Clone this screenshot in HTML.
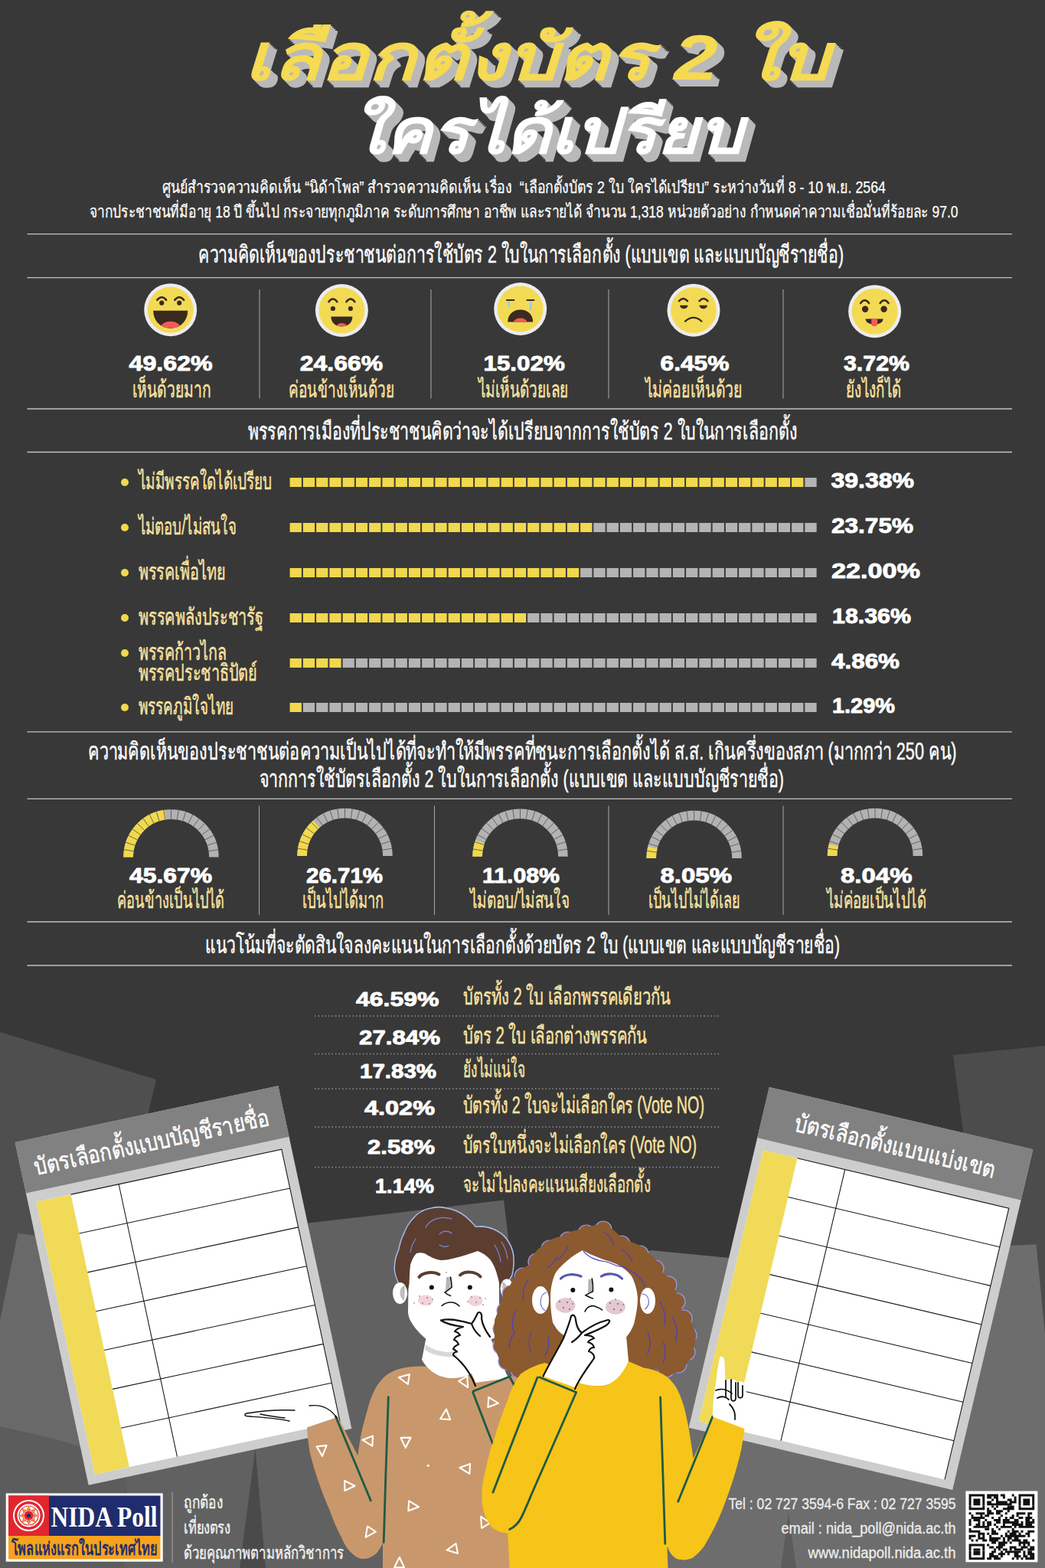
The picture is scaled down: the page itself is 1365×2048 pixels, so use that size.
<!DOCTYPE html>
<html lang="th">
<head>
<meta charset="utf-8">
<title>เลือกตั้งบัตร 2 ใบ ใครได้เปรียบ - NIDA Poll</title>
<style>
html,body{margin:0;padding:0;background:#383838}
body{font-family:"Liberation Sans",sans-serif}
main{position:relative;width:1365px;height:2048px;overflow:hidden;background:#383838}
svg{position:absolute;left:0;display:block;overflow:visible}
text{white-space:pre}
</style>
</head>
<body>
<main>
<svg class="bgsvg" style="top:1280px" width="1365" height="768" viewBox="0 1280 1365 768" font-family="Liberation Sans, sans-serif" aria-hidden="true">
<path d="M0 1348L204 1410L150 1640L0 1800Z" fill="#4f4f4f"/>
<path d="M1245 1378L1365 1366V1800L1300 1800Z" fill="#4c4c4c"/>
<path d="M0 1724L24 1700H170L165 1940L160 2048H0Z" fill="#5c5c5c"/>
<path d="M23.4 1611L80 1618L140 1900L70.3 1879L0 1863V1724.5Z" fill="#696969"/>
<path d="M402 1597.6L658 1567.5L668 1650L720 2048H160L165 1940L130 1700H420Z" fill="#616161"/>
<path d="M850 1633L953 1643L1319.3 1627L1353.5 1625.3L1365 1742V2048H690L700 1700Z" fill="#6d6d6d"/>
<path d="M333.5 1892L347 2048H313Z" fill="#4a4a4a"/><path d="M1030 1975L1040 2048H1020Z" fill="#5c5c5c"/>
<g transform="translate(239.5 1679) rotate(-12.1) translate(-175.75 -229.0)"><rect width="351.5" height="458" fill="#cdcdcd"/><rect width="351.5" height="68" fill="#818181"/><rect x="11" y="82" width="327.5" height="364" fill="#fff"/><rect x="11" y="82" width="46" height="364" fill="#f0da58"/><path d="M57 82H338.5V446M121 82V446M57 134H338.5M57 186H338.5M57 238H338.5M57 290H338.5M57 342H338.5M57 394H338.5" fill="none" stroke="#1a1a1a" stroke-width="1.1"/><text x="18" y="48" font-size="31.5" fill="#fff" textLength="313" lengthAdjust="spacingAndGlyphs" stroke="#fff" stroke-width="0.5">บัตรเลือกตั้งแบบบัญชีรายชื่อ</text></g>
<g transform="translate(1124.5 1683) rotate(13.3) translate(-177.0 -228.5)"><rect width="354" height="457" fill="#cdcdcd"/><rect width="354" height="68" fill="#818181"/><rect x="11" y="82" width="330" height="364" fill="#fff"/><rect x="11" y="82" width="46" height="364" fill="#f0da58"/><path d="M57 82H341V446M121 82V446M57 134H341M57 186H341M57 238H341M57 290H341M57 342H341M57 394H341" fill="none" stroke="#1a1a1a" stroke-width="1.1"/><text x="43" y="48" font-size="31.5" fill="#fff" textLength="269" lengthAdjust="spacingAndGlyphs" stroke="#fff" stroke-width="0.5">บัตรเลือกตั้งแบบแบ่งเขต</text></g>
<g><path d="M559 1785C545 1784 535 1785 525.4 1787C517 1789 510 1792 503.6 1797C498 1802 493 1808 489 1816C485 1824 482 1833 479.5 1843C477 1852 474 1862 472 1872C470 1882 468.5 1892 467.4 1901L440.8 1850L436 1852.5L401 1864.6C401.5 1875 403 1886 404.5 1896C408 1910 412 1924 416.6 1937C421 1950 426 1962 431 1973.4C435 1985 440 1997 445.6 2007C449 2016 454 2024 460 2029C464 2033 469 2036 474.6 2036C481 2036 487 2033 491.5 2029C495 2025 498 2020 500 2015.7V2048H700L690 1800L664 1797L640 1790Z" fill="#c8986c"/><path d="M557 1745L551 1776C560 1792 575 1800 590 1800C606 1800 620 1794 632 1782L640 1740Z" fill="#fff"/><path d="M556 1756C570 1768 600 1770 622 1758L624 1764C600 1776 570 1774 555 1763Z" fill="#d8d8d8"/><path d="M534 1640L545 1622H640L652 1640V1707C650 1716 645 1724 638 1729C625 1748 605 1760 586 1760C568 1760 552 1747 542 1734C536 1726 533 1720 533 1713Z" fill="#fff"/><path d="M531.5 1692C524 1682 517 1670 516 1658C516 1648 518 1640 521 1634C523 1625 525 1617 528.5 1611C532 1602 536 1596 541 1591C547 1584 555 1580 564 1578.5C570 1577 577 1577 582 1578.5C592 1580 601 1584 607 1589C612 1593 617 1598 621 1603C629 1602 637 1603 644 1606C651 1609 657 1613 661 1618.5C666 1625 669 1632 670 1640C671 1649 670 1657 668.5 1664.5C666 1670 663 1674 659 1677" fill="none" stroke="#a9bdf0" stroke-width="3"/><path d="M531.5 1692C524 1682 517 1670 516 1658C516 1648 518 1640 521 1634C523 1625 525 1617 528.5 1611C532 1602 536 1596 541 1591C547 1584 555 1580 564 1578.5C570 1577 577 1577 582 1578.5C592 1580 601 1584 607 1589C612 1593 617 1598 621 1603C629 1602 637 1603 644 1606C651 1609 657 1613 661 1618.5C666 1625 669 1632 670 1640C671 1649 670 1657 668.5 1664.5C666 1670 663 1674 659 1677L653 1689C653 1681 652 1674 650 1667.5C648 1659 645 1652 641 1646C636 1640 630 1636 624 1634C614 1637 604 1641 594.5 1643C588 1645 582 1646 576 1646C568 1645 561 1641 554.5 1637C551 1636 547 1636 544 1637C540 1641 538 1646 536 1652C535 1660 535 1669 534.5 1677Z" fill="#5b3e30"/><path d="M556 1603C562 1592 576 1588 590 1592M574 1612C578 1607 586 1607 590 1611M574 1626C578 1629 583 1629 586 1627M536 1636C537 1628 540 1622 543 1618M646 1626C650 1632 653 1640 654 1648M655 1622C659 1628 662 1636 663 1644" fill="none" stroke="#7d86d8" stroke-width="1.2" stroke-linecap="round"/><ellipse cx="522.5" cy="1689" rx="9.5" ry="14" fill="#fff"/><ellipse cx="662" cy="1683" rx="8.5" ry="12.5" fill="#fff"/><path d="M529 1679C521 1680 520 1694 528 1699Z" fill="#bdbdbd"/><path d="M656 1674C663 1675 664 1688 657 1692Z" fill="#bdbdbd"/><ellipse cx="556" cy="1698.5" rx="10" ry="7" fill="#f1d3da"/><ellipse cx="621" cy="1699" rx="9.5" ry="7" fill="#f1d3da"/><path d="M547.5 1668C552 1662 566 1660 573.5 1664.5M601 1665.5C607 1660 621 1660 627.5 1667.5" fill="none" stroke="#5b3e30" stroke-width="4" stroke-linecap="round"/><circle cx="563.8" cy="1681.5" r="3" fill="#111"/><circle cx="613.8" cy="1681.5" r="3" fill="#111"/><path d="M583 1668H588.5V1683L582 1686Z" fill="#b5b5b5"/><path d="M588.5 1668C589.5 1673 590 1677 590 1681.5C587 1684 584 1686 581 1688C583 1690 586 1691.5 588.5 1692.5M577 1705.5C584 1699.5 594 1699.5 600 1706" fill="none" stroke="#111" stroke-width="1.6" stroke-linecap="round"/><g fill="#6b4a4a"><circle cx="548" cy="1693" r=".8"/><circle cx="552" cy="1702" r=".8"/><circle cx="558" cy="1695" r=".8"/><circle cx="561" cy="1703" r=".8"/><circle cx="565" cy="1697" r=".7"/><circle cx="541" cy="1702" r=".7"/><circle cx="616" cy="1694" r=".8"/><circle cx="622" cy="1701" r=".8"/><circle cx="627" cy="1695" r=".8"/><circle cx="631" cy="1704" r=".8"/><circle cx="634" cy="1696" r=".7"/><circle cx="611" cy="1700" r=".7"/><circle cx="583" cy="1662" r=".7"/></g><path d="M625 1716L652 1700L651 1712L646 1724L652 1745L640 1750Z" fill="#fff"/><path d="M616 1818.5L665.5 1798.5L690 1840L640 1850Z" fill="#c8986c"/><path d="M576 1724.5C584 1722 600 1724 616 1729C620 1724 622 1719 624 1715C627 1712 630 1716 629 1722C630 1730 634 1738 640 1746L664 1800L621 1806C616 1790 606 1778 592 1766C597 1762 598 1758 596 1753C600 1750 600 1745 597 1742C601 1738 601 1734 598 1732C590 1731 582 1729 576 1724.5Z" fill="#fff"/><path d="M576 1724.5C584 1722 600 1724 616 1729C620 1724 622 1719 624 1715C627 1712 630 1716 629 1722C630 1730 634 1738 640 1746M576 1724.5C582 1729 590 1731 605 1733C600 1734 596 1736 594 1739C598 1740 600 1742 601 1744C597 1745 594 1747 593 1750C596 1751 598 1753 599 1756C596 1757 593 1759 592 1762C594 1763 596 1764 597 1765.5C593 1766 592 1768 592 1770C605 1780 614 1792 621 1810M616 1729C618 1735 622 1741 627 1745" fill="none" stroke="#111" stroke-width="2.2" stroke-linecap="round" stroke-linejoin="round"/><path d="M617.3 1817.5L665.6 1798L675.3 1816M617.3 1817.5L643.9 1886.4" fill="none" stroke="#1f5a45" stroke-width="2.8" stroke-linejoin="round"/><path d="M438.4 1850L484.3 1960M507.3 1824.7C505 1890 503 1950 501.2 2014.5" fill="none" stroke="#1f5a45" stroke-width="2.8" stroke-linecap="round"/><path d="M520.8 1799.0L534.8 1795.1L532.9 1807.9ZM611.1 1812.2L599.2 1804.0L610.3 1797.2ZM651.0 1832.8L637.4 1837.9L638.2 1824.9ZM583.0 1840.5L588.1 1854.1L575.1 1853.3ZM473.5 1880.7L487.1 1875.6L486.3 1888.6ZM529.7 1891.0L523.5 1877.9L536.5 1877.6ZM421.0 1901.9L413.7 1889.4L426.6 1887.9ZM600.5 1917.0L614.1 1911.9L613.3 1924.9ZM463.5 1940.8L450.4 1947.0L450.1 1934.0ZM547.0 1968.2L533.4 1973.3L534.2 1960.3ZM477.6 2007.8L480.0 1993.5L490.8 2000.7ZM628.2 1980.8L640.2 1989.0L629.1 1995.8ZM583.6 2024.6L595.5 2016.2L598.0 2029.0ZM521.8 2034.0L528.0 2047.1L515.0 2047.4Z" fill="none" stroke="#fff" stroke-width="2.1" stroke-linejoin="round"/><circle cx="559.2" cy="1914.2" r="1.5" fill="#fff"/><path d="M385 1842C365 1841 340 1843 322 1846C318 1848 320 1850 326 1850C340 1851 360 1852 378 1856M340 1847C350 1849 362 1851 372 1852M404 1836C420 1834 432 1840 440 1852" fill="none" stroke="#111" stroke-width="1.4" stroke-linecap="round"/></g>
<g><g fill="#8b5a2f" stroke="#9a98ee" stroke-width="1.2"><circle cx="788" cy="1606" r="11"/><circle cx="766" cy="1611" r="11"/><circle cx="742" cy="1620" r="11"/><circle cx="718" cy="1631" r="11"/><circle cx="701" cy="1648" r="11"/><circle cx="683" cy="1667" r="11"/><circle cx="667" cy="1690" r="11"/><circle cx="660" cy="1712" r="11"/><circle cx="655" cy="1736" r="11"/><circle cx="655" cy="1758" r="11"/><circle cx="662" cy="1778" r="11"/><circle cx="678" cy="1789" r="11"/><circle cx="812" cy="1625" r="11"/><circle cx="836" cy="1638" r="11"/><circle cx="856" cy="1657" r="11"/><circle cx="873" cy="1678" r="11"/><circle cx="884" cy="1700" r="11"/><circle cx="893" cy="1722" r="11"/><circle cx="899" cy="1744" r="11"/><circle cx="897" cy="1766" r="11"/><circle cx="886" cy="1782" r="11"/><circle cx="870" cy="1788" r="11"/></g><path d="M788 1600C778 1598 770 1602 763 1606.5C752 1605 742 1609 734.5 1615C723 1616 714 1621 709.5 1627C700 1632 694 1641 691.5 1652C680 1657 671 1667 666.5 1678.5C658 1687 653 1699 652.5 1711C646 1721 644 1733 646 1744C645 1756 648 1767 652.5 1775C656 1785 663 1791 671 1793.5C676 1797 682 1798 687 1797.5L760 1812L857 1787C862 1793 867 1795.5 872 1795.5C881 1795 888 1791 892.5 1785C900 1780 904 1773 904.5 1764.5C909 1756 910 1745 906.5 1736C904 1727 898 1719 890.5 1713.5C891 1703 888 1694 882 1686.5C880 1677 874 1668 865.5 1662C862 1651 855 1641 845 1635.5C838 1627 827 1621 814.5 1621C807 1610 798 1602 788 1600Z" fill="#8b5a2f"/><ellipse cx="706" cy="1698" rx="11" ry="18" fill="#fff"/><ellipse cx="846" cy="1699" rx="10" ry="17" fill="#fff"/><path d="M714 1688C705 1690 703 1706 712 1712M838 1690C848 1690 851 1704 842 1710" fill="none" stroke="#6a6fd0" stroke-width="1.2"/><path d="M770 1750L755 1806C768 1812 790 1812 800 1806C812 1798 818 1788 821 1778L818 1745Z" fill="#fff"/><path d="M761 1633C748 1640 735 1650 726 1662C721 1672 719 1684 719 1695C719 1706 720 1717 722 1727.5C726 1735 731 1741 736.5 1744C750 1756 768 1761 784 1760.5C796 1759 806 1755 814.5 1750C821 1744 826 1736 828.5 1727.5C831 1717 833 1706 833 1695C832 1684 829 1674 824.5 1666C817 1657 807 1651 796 1647.5C784 1644 772 1639 761 1633Z" fill="#fff"/><ellipse cx="738.5" cy="1705" rx="13" ry="10" fill="#e3c8d2"/><ellipse cx="804" cy="1707" rx="13" ry="10" fill="#e3c8d2"/><path d="M732.5 1670C738 1664 750 1663 759 1667M785.5 1667C793 1662 806 1663 812.5 1670" fill="none" stroke="#5956b5" stroke-width="3.2" stroke-linecap="round"/><circle cx="748.3" cy="1685" r="3" fill="#111"/><circle cx="798.4" cy="1684.6" r="3" fill="#111"/><path d="M768.5 1671H773.5V1687L768 1689Z" fill="#b5b5b5"/><path d="M773.3 1670C774.5 1676 774.8 1681 774.4 1686.7C771 1688.5 768 1690 765 1691.8C768 1693.5 771 1695 774.4 1696M764 1713C767 1706 774 1704 779 1707C782 1708 785 1709.5 786.7 1711" fill="none" stroke="#111" stroke-width="1.6" stroke-linecap="round"/><g fill="#6b4a4a"><circle cx="731" cy="1700" r=".9"/><circle cx="736" cy="1708" r=".9"/><circle cx="741" cy="1701" r=".9"/><circle cx="744" cy="1710" r=".9"/><circle cx="748" cy="1703" r=".8"/><circle cx="745" cy="1696" r=".8"/><circle cx="797" cy="1702" r=".9"/><circle cx="802" cy="1710" r=".9"/><circle cx="807" cy="1703" r=".9"/><circle cx="811" cy="1711" r=".9"/><circle cx="814" cy="1704" r=".8"/><circle cx="804" cy="1697" r=".8"/></g><path d="M762 1634C768 1642 780 1647 792 1648C800 1650 806 1655 812 1654C818 1655 822 1660 828 1662C834 1668 840 1672 842 1680M729 1640C725 1648 720 1652 716 1656M742 1628C738 1636 734 1642 728 1646M690 1672C684 1680 682 1690 684 1698M674 1712C668 1722 668 1734 672 1742C666 1748 664 1756 666 1762M694 1740C690 1750 690 1760 694 1766M716 1746C718 1756 716 1764 712 1770M862 1700C868 1710 870 1720 868 1730M878 1720C884 1730 886 1742 882 1752M846 1740C850 1750 850 1760 846 1768M866 1752C870 1762 870 1772 866 1780M790 1610C796 1614 800 1620 802 1626M812 1632C818 1636 824 1642 826 1648" fill="none" stroke="#4b3fc0" stroke-width="1.2" stroke-linecap="round"/><path d="M711.6 1780C700 1783 689 1788 680 1794.5C673 1804 667 1816 663.2 1828.4C657 1844 651 1860 646.3 1876.7C641 1891 637 1906 634.2 1920C631 1932 629.4 1943 629.4 1954C629 1964 631 1973 634.2 1980.7C637 1988 641 1994 646.3 1997.6C652 2001 657 2002.4 663.2 2002.4L665.6 2048H872.5L871.4 2019.6C873 2023 874 2026 875.8 2028.4C880 2034 884 2037 889 2037C894 2038 899 2037 904.4 2035C910 2031 915 2026 919.8 2019.6C926 2009 932 1998 937.4 1986.6C943 1974 948 1961 952.7 1947C958 1933 962 1918 966 1903C969 1891 971 1878 972.5 1865.7L930.8 1850.3L905.5 1905C904 1893 902 1880 900 1868C898 1857 896 1847 893.4 1837C890 1827 887 1818 882.4 1810.8C878 1804 873 1799 867 1795.4C859 1791 850 1788 840.7 1786.6L821 1778C812 1798 800 1808 788 1810C776 1811 764 1809 755 1805.5L740 1790Z" fill="#f7c41a"/><path d="M746 1719C749 1716 752 1719 752 1724C753 1732 756 1738 760 1741C770 1733 782 1727 794 1724C798 1724 796 1728 792 1731C784 1736 776 1739 768 1742C772 1743 775 1745 776 1748C773 1749 771 1751 770 1754C773 1755 775 1757 776 1760C773 1761 771 1763 771 1766C775 1768 777 1771 776 1774C768 1786 758 1798 751 1812L709.5 1797.5C718 1780 728 1764 736 1748C740 1738 744 1728 746 1719Z" fill="#fff"/><path d="M709.5 1797.5C718 1780 728 1764 736 1748C740 1738 744 1728 746 1719C749 1716 752 1719 752 1724C753 1732 756 1738 760 1741C770 1733 782 1727 794 1724C798 1724 796 1728 792 1731C784 1736 776 1739 764 1744C769 1744 774 1745 776 1748C773 1749 770 1750 768 1753C772 1754 775 1756 776 1760C773 1760 770 1762 769 1765C773 1766 777 1770 776 1774C768 1786 758 1798 751 1814M760 1741C756 1746 752 1750 747 1753" fill="none" stroke="#111" stroke-width="2.2" stroke-linecap="round" stroke-linejoin="round"/><path d="M704.4 1798.7L752.7 1818.5M701.9 1799.3C682 1850 663 1900 643.9 1949.2M752.7 1818.5C733 1864 713 1908 695 1950C690 1962 686 1972 681 1982C677 1990 671 1995 665.6 1997.6M862.6 1825C864.5 1890 867 1950 868.8 2016.3M930.8 1850.3L885.7 1961.3" fill="none" stroke="#1f5a45" stroke-width="2.8" stroke-linecap="round" stroke-linejoin="round"/><path d="M940.5 1772C944 1770 946.5 1774 946.5 1780L947.5 1803C953 1800 960 1801 963 1805C968 1803 973 1806 974 1811C976 1825 976 1845 972.5 1866L931 1850.5C931 1838 932 1822 935 1808C936 1796 938 1782 940.5 1772Z" fill="#fff"/><path d="M948 1803V1824M955 1802V1826C955 1831 961 1831 961 1826V1806M964 1806V1822C964 1827 970 1827 970 1822V1810M935 1816C942 1813 950 1815 956 1820M937 1826C942 1823 948 1824 952 1828M953 1834C958 1839 961 1846 960 1854" fill="none" stroke="#111" stroke-width="1.8" stroke-linecap="round"/></g>
</svg>
<header>
<svg class="g" style="top:0px" width="1365" height="300" viewBox="0 0 1365 300" font-family="Liberation Sans, sans-serif" role="img" aria-label="เลือกตั้งบัตร 2 ใบ ใครได้เปรียบ"><title>เลือกตั้งบัตร 2 ใบ ใครได้เปรียบ</title>
<g font-size="84" font-weight="700" font-style="italic" fill="#b9b9b9">
<text x="321" y="105.5" textLength="764" lengthAdjust="spacingAndGlyphs">เลือกตั้งบัตร 2 ใบ</text>
<text x="323" y="107.5" textLength="764" lengthAdjust="spacingAndGlyphs">เลือกตั้งบัตร 2 ใบ</text>
<text x="325" y="109.5" textLength="764" lengthAdjust="spacingAndGlyphs">เลือกตั้งบัตร 2 ใบ</text>
<text x="327" y="111.5" textLength="764" lengthAdjust="spacingAndGlyphs">เลือกตั้งบัตร 2 ใบ</text>
<text x="328.5" y="113" textLength="764" lengthAdjust="spacingAndGlyphs">เลือกตั้งบัตร 2 ใบ</text>
</g>
<text x="319" y="103.5" font-size="84" font-weight="700" font-style="italic" fill="#f5da52" textLength="764" lengthAdjust="spacingAndGlyphs">เลือกตั้งบัตร 2 ใบ</text>
<g font-size="82" font-weight="700" font-style="italic" fill="#b9b9b9">
<text x="460" y="202.3" textLength="512" lengthAdjust="spacingAndGlyphs">ใครได้เปรียบ</text>
<text x="462" y="204.3" textLength="512" lengthAdjust="spacingAndGlyphs">ใครได้เปรียบ</text>
<text x="464" y="206.3" textLength="512" lengthAdjust="spacingAndGlyphs">ใครได้เปรียบ</text>
<text x="466" y="208.3" textLength="512" lengthAdjust="spacingAndGlyphs">ใครได้เปรียบ</text>
<text x="467.5" y="209.8" textLength="512" lengthAdjust="spacingAndGlyphs">ใครได้เปรียบ</text>
</g>
<text x="458" y="200.3" font-size="82" font-weight="700" font-style="italic" fill="#ffffff" textLength="512" lengthAdjust="spacingAndGlyphs">ใครได้เปรียบ</text>
</svg>
<svg class="t" style="top:215px" width="1365" height="85" viewBox="0 215 1365 85" font-family="Liberation Sans, sans-serif" >
<text x="211.5" y="251.5" font-size="22" fill="#fff" textLength="945.5" lengthAdjust="spacingAndGlyphs" stroke="#fff" stroke-width=".25">ศูนย์สำรวจความคิดเห็น “นิด้าโพล” สำรวจความคิดเห็น เรื่อง  “เลือกตั้งบัตร 2 ใบ ใครได้เปรียบ” ระหว่างวันที่ 8 - 10 พ.ย. 2564</text>
<text x="117" y="284" font-size="22" fill="#fff" textLength="1134.5" lengthAdjust="spacingAndGlyphs" stroke="#fff" stroke-width=".25">จากประชาชนที่มีอายุ 18 ปี ขึ้นไป กระจายทุกภูมิภาค ระดับการศึกษา อาชีพ และรายได้ จำนวน 1,318 หน่วยตัวอย่าง กำหนดค่าความเชื่อมั่นที่ร้อยละ 97.0</text>
</svg></header>
<section>
<svg class="s" style="top:300px" width="1365" height="240" viewBox="0 300 1365 240" font-family="Liberation Sans, sans-serif" >
<path d="M35.5 305.6H1322" stroke="#c2c2c2" stroke-width="1.3"/><path d="M35.5 362.7H1322" stroke="#c2c2c2" stroke-width="1.3"/><path d="M35.5 534H1322" stroke="#c2c2c2" stroke-width="1.3"/>
<text x="259.3" y="342.5" font-size="31" fill="#fff" textLength="842.7" lengthAdjust="spacingAndGlyphs" stroke="#fff" stroke-width="0.45">ความคิดเห็นของประชาชนต่อการใช้บัตร 2 ใบในการเลือกตั้ง (แบบเขต และแบบบัญชีรายชื่อ)</text>
<path d="M339 378V520.5" stroke="#a8a8a8" stroke-width="1"/>
<path d="M563 378V520.5" stroke="#a8a8a8" stroke-width="1"/>
<path d="M795 378V520.5" stroke="#a8a8a8" stroke-width="1"/>
<path d="M1023 378V520.5" stroke="#a8a8a8" stroke-width="1"/>
<g transform="translate(222.7 404.7)"><circle r="34.5" fill="#ececf0"/><circle r="30" fill="#f3da55"/><path d="M-17.5 -12.8Q-11.5 -20.0 -5.5 -12.8" fill="none" stroke="#3a2a1f" stroke-width="2.5" stroke-linecap="round"/><path d="M5.5 -12.8Q11.5 -20.0 17.5 -12.8" fill="none" stroke="#3a2a1f" stroke-width="2.5" stroke-linecap="round"/><circle cx="-11.5" cy="-9" r="3.1" fill="#3a2a1f"/><circle cx="11.5" cy="-9" r="3.1" fill="#3a2a1f"/><clipPath id="m1"><path d="M-22.5 1H22.5C22.5 15 12 24 0 24S-22.5 15 -22.5 1Z"/></clipPath><path d="M-22.5 1H22.5C22.5 15 12 24 0 24S-22.5 15 -22.5 1Z" fill="#3a2a1f"/><ellipse cx="0" cy="23" rx="12.5" ry="8" fill="#f25a5a" clip-path="url(#m1)"/></g>
<text x="168.6" y="483.5" font-size="27.8" fill="#fff" font-weight="700" textLength="109.1" lengthAdjust="spacingAndGlyphs" stroke="#fff" stroke-width=".9" stroke-linejoin="round">49.62%</text>
<text x="172.5" y="518.5" font-size="30" fill="#fbe3a1" textLength="103.1" lengthAdjust="spacingAndGlyphs" stroke="#fbe3a1" stroke-width="0.45">เห็นด้วยมาก</text>
<g transform="translate(446.4 405.5)"><circle r="34.5" fill="#ececf0"/><circle r="30" fill="#f3da55"/><path d="M-17.0 -11.3Q-11.5 -18.5 -6.0 -11.3" fill="none" stroke="#3a2a1f" stroke-width="2.5" stroke-linecap="round"/><path d="M6.0 -11.3Q11.5 -18.5 17.0 -11.3" fill="none" stroke="#3a2a1f" stroke-width="2.5" stroke-linecap="round"/><circle cx="-11.5" cy="-2.5" r="3.1" fill="#3a2a1f"/><circle cx="11.5" cy="-2.5" r="3.1" fill="#3a2a1f"/><clipPath id="m2"><path d="M-14 8H14C14 16 8 21 0 21S-14 16 -14 8Z"/></clipPath><path d="M-14 8H14C14 16 8 21 0 21S-14 16 -14 8Z" fill="#3a2a1f"/><ellipse cx="0" cy="20.5" rx="6.5" ry="4" fill="#f25a5a" clip-path="url(#m2)"/></g>
<text x="391.8" y="483.5" font-size="27.8" fill="#fff" font-weight="700" textLength="108.2" lengthAdjust="spacingAndGlyphs" stroke="#fff" stroke-width=".9" stroke-linejoin="round">24.66%</text>
<text x="377.4" y="518.5" font-size="30" fill="#fbe3a1" textLength="137.6" lengthAdjust="spacingAndGlyphs" stroke="#fbe3a1" stroke-width="0.45">ค่อนข้างเห็นด้วย</text>
<g transform="translate(679.7 403.5)"><circle r="34.5" fill="#ececf0"/><circle r="30" fill="#f3da55"/><path d="M-18.5 -11.5H-7.5M8 -11.5H18.5" stroke="#3a2a1f" stroke-width="2"/><path d="M-15 -10V-2.5M13.5 -10V1.5" stroke="#8ecfe6" stroke-width="2.4"/><clipPath id="m3"><path d="M-16.5 17C-16.5 7 -9 1 0 1S16.5 7 16.5 17Z"/></clipPath><path d="M-16.5 17C-16.5 7 -9 1 0 1S16.5 7 16.5 17Z" fill="#3a2a1f"/><ellipse cx="0" cy="17" rx="8.5" ry="5" fill="#f25a5a" clip-path="url(#m3)"/></g>
<text x="631.5" y="483.5" font-size="27.8" fill="#fff" font-weight="700" textLength="106.3" lengthAdjust="spacingAndGlyphs" stroke="#fff" stroke-width=".9" stroke-linejoin="round">15.02%</text>
<text x="624.6" y="518.5" font-size="30" fill="#fbe3a1" textLength="118" lengthAdjust="spacingAndGlyphs" stroke="#fbe3a1" stroke-width="0.45">ไม่เห็นด้วยเลย</text>
<g transform="translate(906 405.2)"><circle r="34.5" fill="#ececf0"/><circle r="30" fill="#f3da55"/><path d="M-19.0 -12.1Q-13.5 -18.5 -8.0 -12.1" fill="none" stroke="#3a2a1f" stroke-width="2.5" stroke-linecap="round"/><path d="M7.5 -12.1Q13 -18.5 18.5 -12.1" fill="none" stroke="#3a2a1f" stroke-width="2.5" stroke-linecap="round"/><path d="M-18 -6.5H-7.5C-8 -3 -10.5 -2 -12.7 -2S-17.5 -3 -18 -6.5ZM7.5 -6.5H18C17.5 -3 15 -2 12.8 -2S8 -3 7.5 -6.5Z" fill="#3a2a1f"/><path d="M-11 14.5Q0 5 10.5 14.5" fill="none" stroke="#3a2a1f" stroke-width="2.2" stroke-linecap="round"/></g>
<text x="862.5" y="483.5" font-size="27.8" fill="#fff" font-weight="700" textLength="90" lengthAdjust="spacingAndGlyphs" stroke="#fff" stroke-width=".9" stroke-linejoin="round">6.45%</text>
<text x="842.5" y="518.5" font-size="30" fill="#fbe3a1" textLength="127.2" lengthAdjust="spacingAndGlyphs" stroke="#fbe3a1" stroke-width="0.45">ไม่ค่อยเห็นด้วย</text>
<g transform="translate(1142.6 406.7)"><circle r="34.5" fill="#ececf0"/><circle r="30" fill="#f3da55"/><path d="M-18.5 -10.8Q-13 -18.0 -7.5 -10.8" fill="none" stroke="#3a2a1f" stroke-width="2.5" stroke-linecap="round"/><path d="M7.0 -10.8Q12.5 -18.0 18.0 -10.8" fill="none" stroke="#3a2a1f" stroke-width="2.5" stroke-linecap="round"/><circle cx="-12.5" cy="-3" r="4.2" fill="#3a2a1f"/><circle cx="12" cy="-3" r="4.2" fill="#3a2a1f"/><path d="M-12 9.7H11C11 14 6 17 -0.5 17S-12 14 -12 9.7Z" fill="#3a2a1f"/><path d="M-4.4 9.7H3.6V15.5A4 4 0 0 1 -4.4 15.5Z" fill="#f25a5a"/></g>
<text x="1102" y="483.5" font-size="27.8" fill="#fff" font-weight="700" textLength="86" lengthAdjust="spacingAndGlyphs" stroke="#fff" stroke-width=".9" stroke-linejoin="round">3.72%</text>
<text x="1105" y="518.5" font-size="30" fill="#fbe3a1" textLength="72" lengthAdjust="spacingAndGlyphs" stroke="#fbe3a1" stroke-width="0.45">ยังไงก็ได้</text>
</svg></section>
<section>
<svg class="s" style="top:540px" width="1365" height="410" viewBox="0 540 1365 410" font-family="Liberation Sans, sans-serif" >
<path d="M35.5 590.5H1322" stroke="#c2c2c2" stroke-width="1.3"/><path d="M35.5 955.8H1322" stroke="#c2c2c2" stroke-width="1.3"/>
<text x="324" y="573.5" font-size="31" fill="#fff" textLength="717" lengthAdjust="spacingAndGlyphs" stroke="#fff" stroke-width="0.45">พรรคการเมืองที่ประชาชนคิดว่าจะได้เปรียบจากการใช้บัตร 2 ใบในการเลือกตั้ง</text>
<defs><pattern id="sq" x="378.6" y="0" width="17.25" height="20" patternUnits="userSpaceOnUse"><rect width="15.3" height="20"/></pattern></defs>
<g>
<rect x="378.60" y="624.0" width="15.3" height="12" fill="#f2d84c"/><rect x="395.85" y="624.0" width="15.3" height="12" fill="#f2d84c"/><rect x="413.10" y="624.0" width="15.3" height="12" fill="#f2d84c"/><rect x="430.35" y="624.0" width="15.3" height="12" fill="#f2d84c"/><rect x="447.60" y="624.0" width="15.3" height="12" fill="#f2d84c"/><rect x="464.85" y="624.0" width="15.3" height="12" fill="#f2d84c"/><rect x="482.10" y="624.0" width="15.3" height="12" fill="#f2d84c"/><rect x="499.35" y="624.0" width="15.3" height="12" fill="#f2d84c"/><rect x="516.60" y="624.0" width="15.3" height="12" fill="#f2d84c"/><rect x="533.85" y="624.0" width="15.3" height="12" fill="#f2d84c"/><rect x="551.10" y="624.0" width="15.3" height="12" fill="#f2d84c"/><rect x="568.35" y="624.0" width="15.3" height="12" fill="#f2d84c"/><rect x="585.60" y="624.0" width="15.3" height="12" fill="#f2d84c"/><rect x="602.85" y="624.0" width="15.3" height="12" fill="#f2d84c"/><rect x="620.10" y="624.0" width="15.3" height="12" fill="#f2d84c"/><rect x="637.35" y="624.0" width="15.3" height="12" fill="#f2d84c"/><rect x="654.60" y="624.0" width="15.3" height="12" fill="#f2d84c"/><rect x="671.85" y="624.0" width="15.3" height="12" fill="#f2d84c"/><rect x="689.10" y="624.0" width="15.3" height="12" fill="#f2d84c"/><rect x="706.35" y="624.0" width="15.3" height="12" fill="#f2d84c"/><rect x="723.60" y="624.0" width="15.3" height="12" fill="#f2d84c"/><rect x="740.85" y="624.0" width="15.3" height="12" fill="#f2d84c"/><rect x="758.10" y="624.0" width="15.3" height="12" fill="#f2d84c"/><rect x="775.35" y="624.0" width="15.3" height="12" fill="#f2d84c"/><rect x="792.60" y="624.0" width="15.3" height="12" fill="#f2d84c"/><rect x="809.85" y="624.0" width="15.3" height="12" fill="#f2d84c"/><rect x="827.10" y="624.0" width="15.3" height="12" fill="#f2d84c"/><rect x="844.35" y="624.0" width="15.3" height="12" fill="#f2d84c"/><rect x="861.60" y="624.0" width="15.3" height="12" fill="#f2d84c"/><rect x="878.85" y="624.0" width="15.3" height="12" fill="#f2d84c"/><rect x="896.10" y="624.0" width="15.3" height="12" fill="#f2d84c"/><rect x="913.35" y="624.0" width="15.3" height="12" fill="#f2d84c"/><rect x="930.60" y="624.0" width="15.3" height="12" fill="#f2d84c"/><rect x="947.85" y="624.0" width="15.3" height="12" fill="#f2d84c"/><rect x="965.10" y="624.0" width="15.3" height="12" fill="#f2d84c"/><rect x="982.35" y="624.0" width="15.3" height="12" fill="#f2d84c"/><rect x="999.60" y="624.0" width="15.3" height="12" fill="#f2d84c"/><rect x="1016.85" y="624.0" width="15.3" height="12" fill="#f2d84c"/><rect x="1034.10" y="624.0" width="15.3" height="12" fill="#f2d84c"/><rect x="1051.35" y="624.0" width="15.3" height="12" fill="#b4b4b4"/>
</g>
<circle cx="163" cy="630" r="5" fill="#f2d84c"/>
<text x="180.5" y="639" font-size="30" fill="#fbe3a1" textLength="175" lengthAdjust="spacingAndGlyphs" stroke="#fbe3a1" stroke-width="0.45">ไม่มีพรรคใดได้เปรียบ</text>
<text x="1085.5" y="637" font-size="27.8" fill="#fff" font-weight="700" textLength="108.5" lengthAdjust="spacingAndGlyphs" stroke="#fff" stroke-width=".9" stroke-linejoin="round">39.38%</text>
<g>
<rect x="378.60" y="683.0" width="15.3" height="12" fill="#f2d84c"/><rect x="395.85" y="683.0" width="15.3" height="12" fill="#f2d84c"/><rect x="413.10" y="683.0" width="15.3" height="12" fill="#f2d84c"/><rect x="430.35" y="683.0" width="15.3" height="12" fill="#f2d84c"/><rect x="447.60" y="683.0" width="15.3" height="12" fill="#f2d84c"/><rect x="464.85" y="683.0" width="15.3" height="12" fill="#f2d84c"/><rect x="482.10" y="683.0" width="15.3" height="12" fill="#f2d84c"/><rect x="499.35" y="683.0" width="15.3" height="12" fill="#f2d84c"/><rect x="516.60" y="683.0" width="15.3" height="12" fill="#f2d84c"/><rect x="533.85" y="683.0" width="15.3" height="12" fill="#f2d84c"/><rect x="551.10" y="683.0" width="15.3" height="12" fill="#f2d84c"/><rect x="568.35" y="683.0" width="15.3" height="12" fill="#f2d84c"/><rect x="585.60" y="683.0" width="15.3" height="12" fill="#f2d84c"/><rect x="602.85" y="683.0" width="15.3" height="12" fill="#f2d84c"/><rect x="620.10" y="683.0" width="15.3" height="12" fill="#f2d84c"/><rect x="637.35" y="683.0" width="15.3" height="12" fill="#f2d84c"/><rect x="654.60" y="683.0" width="15.3" height="12" fill="#f2d84c"/><rect x="671.85" y="683.0" width="15.3" height="12" fill="#f2d84c"/><rect x="689.10" y="683.0" width="15.3" height="12" fill="#f2d84c"/><rect x="706.35" y="683.0" width="15.3" height="12" fill="#f2d84c"/><rect x="723.60" y="683.0" width="15.3" height="12" fill="#f2d84c"/><rect x="740.85" y="683.0" width="15.3" height="12" fill="#f2d84c"/><rect x="758.10" y="683.0" width="15.3" height="12" fill="#f2d84c"/><rect x="775.35" y="683.0" width="15.3" height="12" fill="#b4b4b4"/><rect x="792.60" y="683.0" width="15.3" height="12" fill="#b4b4b4"/><rect x="809.85" y="683.0" width="15.3" height="12" fill="#b4b4b4"/><rect x="827.10" y="683.0" width="15.3" height="12" fill="#b4b4b4"/><rect x="844.35" y="683.0" width="15.3" height="12" fill="#b4b4b4"/><rect x="861.60" y="683.0" width="15.3" height="12" fill="#b4b4b4"/><rect x="878.85" y="683.0" width="15.3" height="12" fill="#b4b4b4"/><rect x="896.10" y="683.0" width="15.3" height="12" fill="#b4b4b4"/><rect x="913.35" y="683.0" width="15.3" height="12" fill="#b4b4b4"/><rect x="930.60" y="683.0" width="15.3" height="12" fill="#b4b4b4"/><rect x="947.85" y="683.0" width="15.3" height="12" fill="#b4b4b4"/><rect x="965.10" y="683.0" width="15.3" height="12" fill="#b4b4b4"/><rect x="982.35" y="683.0" width="15.3" height="12" fill="#b4b4b4"/><rect x="999.60" y="683.0" width="15.3" height="12" fill="#b4b4b4"/><rect x="1016.85" y="683.0" width="15.3" height="12" fill="#b4b4b4"/><rect x="1034.10" y="683.0" width="15.3" height="12" fill="#b4b4b4"/><rect x="1051.35" y="683.0" width="15.3" height="12" fill="#b4b4b4"/>
</g>
<circle cx="163" cy="689" r="5" fill="#f2d84c"/>
<text x="180.5" y="698" font-size="30" fill="#fbe3a1" textLength="128.5" lengthAdjust="spacingAndGlyphs" stroke="#fbe3a1" stroke-width="0.45">ไม่ตอบ/ไม่สนใจ</text>
<text x="1086" y="696" font-size="27.8" fill="#fff" font-weight="700" textLength="107" lengthAdjust="spacingAndGlyphs" stroke="#fff" stroke-width=".9" stroke-linejoin="round">23.75%</text>
<g>
<rect x="378.60" y="742.0" width="15.3" height="12" fill="#f2d84c"/><rect x="395.85" y="742.0" width="15.3" height="12" fill="#f2d84c"/><rect x="413.10" y="742.0" width="15.3" height="12" fill="#f2d84c"/><rect x="430.35" y="742.0" width="15.3" height="12" fill="#f2d84c"/><rect x="447.60" y="742.0" width="15.3" height="12" fill="#f2d84c"/><rect x="464.85" y="742.0" width="15.3" height="12" fill="#f2d84c"/><rect x="482.10" y="742.0" width="15.3" height="12" fill="#f2d84c"/><rect x="499.35" y="742.0" width="15.3" height="12" fill="#f2d84c"/><rect x="516.60" y="742.0" width="15.3" height="12" fill="#f2d84c"/><rect x="533.85" y="742.0" width="15.3" height="12" fill="#f2d84c"/><rect x="551.10" y="742.0" width="15.3" height="12" fill="#f2d84c"/><rect x="568.35" y="742.0" width="15.3" height="12" fill="#f2d84c"/><rect x="585.60" y="742.0" width="15.3" height="12" fill="#f2d84c"/><rect x="602.85" y="742.0" width="15.3" height="12" fill="#f2d84c"/><rect x="620.10" y="742.0" width="15.3" height="12" fill="#f2d84c"/><rect x="637.35" y="742.0" width="15.3" height="12" fill="#f2d84c"/><rect x="654.60" y="742.0" width="15.3" height="12" fill="#f2d84c"/><rect x="671.85" y="742.0" width="15.3" height="12" fill="#f2d84c"/><rect x="689.10" y="742.0" width="15.3" height="12" fill="#f2d84c"/><rect x="706.35" y="742.0" width="15.3" height="12" fill="#f2d84c"/><rect x="723.60" y="742.0" width="15.3" height="12" fill="#f2d84c"/><rect x="740.85" y="742.0" width="15.3" height="12" fill="#f2d84c"/><rect x="758.10" y="742.0" width="15.3" height="12" fill="#b4b4b4"/><rect x="775.35" y="742.0" width="15.3" height="12" fill="#b4b4b4"/><rect x="792.60" y="742.0" width="15.3" height="12" fill="#b4b4b4"/><rect x="809.85" y="742.0" width="15.3" height="12" fill="#b4b4b4"/><rect x="827.10" y="742.0" width="15.3" height="12" fill="#b4b4b4"/><rect x="844.35" y="742.0" width="15.3" height="12" fill="#b4b4b4"/><rect x="861.60" y="742.0" width="15.3" height="12" fill="#b4b4b4"/><rect x="878.85" y="742.0" width="15.3" height="12" fill="#b4b4b4"/><rect x="896.10" y="742.0" width="15.3" height="12" fill="#b4b4b4"/><rect x="913.35" y="742.0" width="15.3" height="12" fill="#b4b4b4"/><rect x="930.60" y="742.0" width="15.3" height="12" fill="#b4b4b4"/><rect x="947.85" y="742.0" width="15.3" height="12" fill="#b4b4b4"/><rect x="965.10" y="742.0" width="15.3" height="12" fill="#b4b4b4"/><rect x="982.35" y="742.0" width="15.3" height="12" fill="#b4b4b4"/><rect x="999.60" y="742.0" width="15.3" height="12" fill="#b4b4b4"/><rect x="1016.85" y="742.0" width="15.3" height="12" fill="#b4b4b4"/><rect x="1034.10" y="742.0" width="15.3" height="12" fill="#b4b4b4"/><rect x="1051.35" y="742.0" width="15.3" height="12" fill="#b4b4b4"/>
</g>
<circle cx="163" cy="748" r="5" fill="#f2d84c"/>
<text x="180.5" y="757" font-size="30" fill="#fbe3a1" textLength="114.5" lengthAdjust="spacingAndGlyphs" stroke="#fbe3a1" stroke-width="0.45">พรรคเพื่อไทย</text>
<text x="1086" y="755" font-size="27.8" fill="#fff" font-weight="700" textLength="116" lengthAdjust="spacingAndGlyphs" stroke="#fff" stroke-width=".9" stroke-linejoin="round">22.00%</text>
<g>
<rect x="378.60" y="801.0" width="15.3" height="12" fill="#f2d84c"/><rect x="395.85" y="801.0" width="15.3" height="12" fill="#f2d84c"/><rect x="413.10" y="801.0" width="15.3" height="12" fill="#f2d84c"/><rect x="430.35" y="801.0" width="15.3" height="12" fill="#f2d84c"/><rect x="447.60" y="801.0" width="15.3" height="12" fill="#f2d84c"/><rect x="464.85" y="801.0" width="15.3" height="12" fill="#f2d84c"/><rect x="482.10" y="801.0" width="15.3" height="12" fill="#f2d84c"/><rect x="499.35" y="801.0" width="15.3" height="12" fill="#f2d84c"/><rect x="516.60" y="801.0" width="15.3" height="12" fill="#f2d84c"/><rect x="533.85" y="801.0" width="15.3" height="12" fill="#f2d84c"/><rect x="551.10" y="801.0" width="15.3" height="12" fill="#f2d84c"/><rect x="568.35" y="801.0" width="15.3" height="12" fill="#f2d84c"/><rect x="585.60" y="801.0" width="15.3" height="12" fill="#f2d84c"/><rect x="602.85" y="801.0" width="15.3" height="12" fill="#f2d84c"/><rect x="620.10" y="801.0" width="15.3" height="12" fill="#f2d84c"/><rect x="637.35" y="801.0" width="15.3" height="12" fill="#f2d84c"/><rect x="654.60" y="801.0" width="15.3" height="12" fill="#f2d84c"/><rect x="671.85" y="801.0" width="15.3" height="12" fill="#f2d84c"/><rect x="689.10" y="801.0" width="15.3" height="12" fill="#b4b4b4"/><rect x="706.35" y="801.0" width="15.3" height="12" fill="#b4b4b4"/><rect x="723.60" y="801.0" width="15.3" height="12" fill="#b4b4b4"/><rect x="740.85" y="801.0" width="15.3" height="12" fill="#b4b4b4"/><rect x="758.10" y="801.0" width="15.3" height="12" fill="#b4b4b4"/><rect x="775.35" y="801.0" width="15.3" height="12" fill="#b4b4b4"/><rect x="792.60" y="801.0" width="15.3" height="12" fill="#b4b4b4"/><rect x="809.85" y="801.0" width="15.3" height="12" fill="#b4b4b4"/><rect x="827.10" y="801.0" width="15.3" height="12" fill="#b4b4b4"/><rect x="844.35" y="801.0" width="15.3" height="12" fill="#b4b4b4"/><rect x="861.60" y="801.0" width="15.3" height="12" fill="#b4b4b4"/><rect x="878.85" y="801.0" width="15.3" height="12" fill="#b4b4b4"/><rect x="896.10" y="801.0" width="15.3" height="12" fill="#b4b4b4"/><rect x="913.35" y="801.0" width="15.3" height="12" fill="#b4b4b4"/><rect x="930.60" y="801.0" width="15.3" height="12" fill="#b4b4b4"/><rect x="947.85" y="801.0" width="15.3" height="12" fill="#b4b4b4"/><rect x="965.10" y="801.0" width="15.3" height="12" fill="#b4b4b4"/><rect x="982.35" y="801.0" width="15.3" height="12" fill="#b4b4b4"/><rect x="999.60" y="801.0" width="15.3" height="12" fill="#b4b4b4"/><rect x="1016.85" y="801.0" width="15.3" height="12" fill="#b4b4b4"/><rect x="1034.10" y="801.0" width="15.3" height="12" fill="#b4b4b4"/><rect x="1051.35" y="801.0" width="15.3" height="12" fill="#b4b4b4"/>
</g>
<circle cx="163" cy="807" r="5" fill="#f2d84c"/>
<text x="180.5" y="816" font-size="30" fill="#fbe3a1" textLength="164" lengthAdjust="spacingAndGlyphs" stroke="#fbe3a1" stroke-width="0.45">พรรคพลังประชารัฐ</text>
<text x="1087" y="814" font-size="27.8" fill="#fff" font-weight="700" textLength="103" lengthAdjust="spacingAndGlyphs" stroke="#fff" stroke-width=".9" stroke-linejoin="round">18.36%</text>
<g>
<rect x="378.60" y="860.0" width="15.3" height="12" fill="#f2d84c"/><rect x="395.85" y="860.0" width="15.3" height="12" fill="#f2d84c"/><rect x="413.10" y="860.0" width="15.3" height="12" fill="#f2d84c"/><rect x="430.35" y="860.0" width="15.3" height="12" fill="#f2d84c"/><rect x="447.60" y="860.0" width="15.3" height="12" fill="#b4b4b4"/><rect x="464.85" y="860.0" width="15.3" height="12" fill="#b4b4b4"/><rect x="482.10" y="860.0" width="15.3" height="12" fill="#b4b4b4"/><rect x="499.35" y="860.0" width="15.3" height="12" fill="#b4b4b4"/><rect x="516.60" y="860.0" width="15.3" height="12" fill="#b4b4b4"/><rect x="533.85" y="860.0" width="15.3" height="12" fill="#b4b4b4"/><rect x="551.10" y="860.0" width="15.3" height="12" fill="#b4b4b4"/><rect x="568.35" y="860.0" width="15.3" height="12" fill="#b4b4b4"/><rect x="585.60" y="860.0" width="15.3" height="12" fill="#b4b4b4"/><rect x="602.85" y="860.0" width="15.3" height="12" fill="#b4b4b4"/><rect x="620.10" y="860.0" width="15.3" height="12" fill="#b4b4b4"/><rect x="637.35" y="860.0" width="15.3" height="12" fill="#b4b4b4"/><rect x="654.60" y="860.0" width="15.3" height="12" fill="#b4b4b4"/><rect x="671.85" y="860.0" width="15.3" height="12" fill="#b4b4b4"/><rect x="689.10" y="860.0" width="15.3" height="12" fill="#b4b4b4"/><rect x="706.35" y="860.0" width="15.3" height="12" fill="#b4b4b4"/><rect x="723.60" y="860.0" width="15.3" height="12" fill="#b4b4b4"/><rect x="740.85" y="860.0" width="15.3" height="12" fill="#b4b4b4"/><rect x="758.10" y="860.0" width="15.3" height="12" fill="#b4b4b4"/><rect x="775.35" y="860.0" width="15.3" height="12" fill="#b4b4b4"/><rect x="792.60" y="860.0" width="15.3" height="12" fill="#b4b4b4"/><rect x="809.85" y="860.0" width="15.3" height="12" fill="#b4b4b4"/><rect x="827.10" y="860.0" width="15.3" height="12" fill="#b4b4b4"/><rect x="844.35" y="860.0" width="15.3" height="12" fill="#b4b4b4"/><rect x="861.60" y="860.0" width="15.3" height="12" fill="#b4b4b4"/><rect x="878.85" y="860.0" width="15.3" height="12" fill="#b4b4b4"/><rect x="896.10" y="860.0" width="15.3" height="12" fill="#b4b4b4"/><rect x="913.35" y="860.0" width="15.3" height="12" fill="#b4b4b4"/><rect x="930.60" y="860.0" width="15.3" height="12" fill="#b4b4b4"/><rect x="947.85" y="860.0" width="15.3" height="12" fill="#b4b4b4"/><rect x="965.10" y="860.0" width="15.3" height="12" fill="#b4b4b4"/><rect x="982.35" y="860.0" width="15.3" height="12" fill="#b4b4b4"/><rect x="999.60" y="860.0" width="15.3" height="12" fill="#b4b4b4"/><rect x="1016.85" y="860.0" width="15.3" height="12" fill="#b4b4b4"/><rect x="1034.10" y="860.0" width="15.3" height="12" fill="#b4b4b4"/><rect x="1051.35" y="860.0" width="15.3" height="12" fill="#b4b4b4"/>
</g>
<circle cx="163" cy="853" r="5" fill="#f2d84c"/>
<text x="180.5" y="862" font-size="30" fill="#fbe3a1" textLength="115.5" lengthAdjust="spacingAndGlyphs" stroke="#fbe3a1" stroke-width="0.45">พรรคก้าวไกล</text>
<text x="180.5" y="889" font-size="30" fill="#fbe3a1" textLength="155.5" lengthAdjust="spacingAndGlyphs" stroke="#fbe3a1" stroke-width="0.45">พรรคประชาธิปัตย์</text>
<text x="1086" y="873" font-size="27.8" fill="#fff" font-weight="700" textLength="89" lengthAdjust="spacingAndGlyphs" stroke="#fff" stroke-width=".9" stroke-linejoin="round">4.86%</text>
<g>
<rect x="378.60" y="918.0" width="15.3" height="12" fill="#f2d84c"/><rect x="395.85" y="918.0" width="15.3" height="12" fill="#b4b4b4"/><rect x="413.10" y="918.0" width="15.3" height="12" fill="#b4b4b4"/><rect x="430.35" y="918.0" width="15.3" height="12" fill="#b4b4b4"/><rect x="447.60" y="918.0" width="15.3" height="12" fill="#b4b4b4"/><rect x="464.85" y="918.0" width="15.3" height="12" fill="#b4b4b4"/><rect x="482.10" y="918.0" width="15.3" height="12" fill="#b4b4b4"/><rect x="499.35" y="918.0" width="15.3" height="12" fill="#b4b4b4"/><rect x="516.60" y="918.0" width="15.3" height="12" fill="#b4b4b4"/><rect x="533.85" y="918.0" width="15.3" height="12" fill="#b4b4b4"/><rect x="551.10" y="918.0" width="15.3" height="12" fill="#b4b4b4"/><rect x="568.35" y="918.0" width="15.3" height="12" fill="#b4b4b4"/><rect x="585.60" y="918.0" width="15.3" height="12" fill="#b4b4b4"/><rect x="602.85" y="918.0" width="15.3" height="12" fill="#b4b4b4"/><rect x="620.10" y="918.0" width="15.3" height="12" fill="#b4b4b4"/><rect x="637.35" y="918.0" width="15.3" height="12" fill="#b4b4b4"/><rect x="654.60" y="918.0" width="15.3" height="12" fill="#b4b4b4"/><rect x="671.85" y="918.0" width="15.3" height="12" fill="#b4b4b4"/><rect x="689.10" y="918.0" width="15.3" height="12" fill="#b4b4b4"/><rect x="706.35" y="918.0" width="15.3" height="12" fill="#b4b4b4"/><rect x="723.60" y="918.0" width="15.3" height="12" fill="#b4b4b4"/><rect x="740.85" y="918.0" width="15.3" height="12" fill="#b4b4b4"/><rect x="758.10" y="918.0" width="15.3" height="12" fill="#b4b4b4"/><rect x="775.35" y="918.0" width="15.3" height="12" fill="#b4b4b4"/><rect x="792.60" y="918.0" width="15.3" height="12" fill="#b4b4b4"/><rect x="809.85" y="918.0" width="15.3" height="12" fill="#b4b4b4"/><rect x="827.10" y="918.0" width="15.3" height="12" fill="#b4b4b4"/><rect x="844.35" y="918.0" width="15.3" height="12" fill="#b4b4b4"/><rect x="861.60" y="918.0" width="15.3" height="12" fill="#b4b4b4"/><rect x="878.85" y="918.0" width="15.3" height="12" fill="#b4b4b4"/><rect x="896.10" y="918.0" width="15.3" height="12" fill="#b4b4b4"/><rect x="913.35" y="918.0" width="15.3" height="12" fill="#b4b4b4"/><rect x="930.60" y="918.0" width="15.3" height="12" fill="#b4b4b4"/><rect x="947.85" y="918.0" width="15.3" height="12" fill="#b4b4b4"/><rect x="965.10" y="918.0" width="15.3" height="12" fill="#b4b4b4"/><rect x="982.35" y="918.0" width="15.3" height="12" fill="#b4b4b4"/><rect x="999.60" y="918.0" width="15.3" height="12" fill="#b4b4b4"/><rect x="1016.85" y="918.0" width="15.3" height="12" fill="#b4b4b4"/><rect x="1034.10" y="918.0" width="15.3" height="12" fill="#b4b4b4"/><rect x="1051.35" y="918.0" width="15.3" height="12" fill="#b4b4b4"/>
</g>
<circle cx="163" cy="924" r="5" fill="#f2d84c"/>
<text x="180.5" y="933" font-size="30" fill="#fbe3a1" textLength="125" lengthAdjust="spacingAndGlyphs" stroke="#fbe3a1" stroke-width="0.45">พรรคภูมิใจไทย</text>
<text x="1087" y="931" font-size="27.8" fill="#fff" font-weight="700" textLength="82" lengthAdjust="spacingAndGlyphs" stroke="#fff" stroke-width=".9" stroke-linejoin="round">1.29%</text>
</svg></section>
<section>
<svg class="s" style="top:950px" width="1365" height="260" viewBox="0 950 1365 260" font-family="Liberation Sans, sans-serif" >
<path d="M35.5 1043.3H1322" stroke="#c2c2c2" stroke-width="1.3"/><path d="M35.5 1204H1322" stroke="#c2c2c2" stroke-width="1.3"/>
<text x="115" y="992" font-size="31" fill="#fff" textLength="1134.5" lengthAdjust="spacingAndGlyphs" stroke="#fff" stroke-width="0.45">ความคิดเห็นของประชาชนต่อความเป็นไปได้ที่จะทำให้มีพรรคที่ชนะการเลือกตั้งได้ ส.ส. เกินครึ่งของสภา (มากกว่า 250 คน)</text>
<text x="338.5" y="1028" font-size="31" fill="#fff" textLength="685.5" lengthAdjust="spacingAndGlyphs" stroke="#fff" stroke-width="0.45">จากการใช้บัตรเลือกตั้ง 2 ใบในการเลือกตั้ง (แบบเขต และแบบบัญชีรายชื่อ)</text>
<path d="M338.5 1052.5V1195" stroke="#a8a8a8" stroke-width="1"/>
<path d="M567.5 1052.5V1195" stroke="#a8a8a8" stroke-width="1"/>
<path d="M795 1052.5V1195" stroke="#a8a8a8" stroke-width="1"/>
<path d="M1023 1052.5V1195" stroke="#a8a8a8" stroke-width="1"/>
<path d="M167.6 1119.5A55.9 55.9 0 0 1 279.4 1119.5" fill="none" stroke="#b2b2b2" stroke-width="12.6"/><path d="M167.6 1119.5A55.9 55.9 0 0 1 215.9 1064.1" fill="none" stroke="#f2d84c" stroke-width="12.6"/><path d="M175.0 1111.8L161.6 1109.7M176.8 1104.3L163.9 1100.1M179.8 1097.2L167.6 1091.0M183.8 1090.6L172.8 1082.6M188.8 1084.8L179.2 1075.2M194.6 1079.8L186.6 1068.8M201.2 1075.8L195.0 1063.6M208.3 1072.8L204.1 1059.9M215.8 1071.0L213.7 1057.6M223.5 1070.4L223.5 1056.8M231.2 1071.0L233.3 1057.6M238.7 1072.8L242.9 1059.9M245.8 1075.8L252.0 1063.6M252.4 1079.8L260.4 1068.8M258.2 1084.8L267.8 1075.2M263.2 1090.6L274.2 1082.6M267.2 1097.2L279.4 1091.0M270.2 1104.3L283.1 1100.1M272.0 1111.8L285.4 1109.7" stroke="#5a5a5a" stroke-width=".9"/>
<text x="169" y="1152.5" font-size="27.8" fill="#fff" font-weight="700" textLength="108" lengthAdjust="spacingAndGlyphs" stroke="#fff" stroke-width=".9" stroke-linejoin="round">45.67%</text>
<text x="153" y="1186" font-size="30" fill="#fbe3a1" textLength="140" lengthAdjust="spacingAndGlyphs" stroke="#fbe3a1" stroke-width="0.45">ค่อนข้างเป็นไปได้</text>
<path d="M394.6 1118.0A55.9 55.9 0 0 1 506.4 1118.0" fill="none" stroke="#b2b2b2" stroke-width="12.6"/><path d="M394.6 1118.0A55.9 55.9 0 0 1 413.2 1076.4" fill="none" stroke="#f2d84c" stroke-width="12.6"/><path d="M402.0 1110.3L388.6 1108.2M403.8 1102.8L390.9 1098.6M406.8 1095.7L394.6 1089.5M410.8 1089.1L399.8 1081.1M415.8 1083.3L406.2 1073.7M421.6 1078.3L413.6 1067.3M428.2 1074.3L422.0 1062.1M435.3 1071.3L431.1 1058.4M442.8 1069.5L440.7 1056.1M450.5 1068.9L450.5 1055.3M458.2 1069.5L460.3 1056.1M465.7 1071.3L469.9 1058.4M472.8 1074.3L479.0 1062.1M479.4 1078.3L487.4 1067.3M485.2 1083.3L494.8 1073.7M490.2 1089.1L501.2 1081.1M494.2 1095.7L506.4 1089.5M497.2 1102.8L510.1 1098.6M499.0 1110.3L512.4 1108.2" stroke="#5a5a5a" stroke-width=".9"/>
<text x="400" y="1152.5" font-size="27.8" fill="#fff" font-weight="700" textLength="100" lengthAdjust="spacingAndGlyphs" stroke="#fff" stroke-width=".9" stroke-linejoin="round">26.71%</text>
<text x="395" y="1186" font-size="30" fill="#fbe3a1" textLength="106.5" lengthAdjust="spacingAndGlyphs" stroke="#fbe3a1" stroke-width="0.45">เป็นไปได้มาก</text>
<path d="M623.6 1118.8A55.9 55.9 0 0 1 735.4 1118.8" fill="none" stroke="#b2b2b2" stroke-width="12.6"/><path d="M623.6 1118.8A55.9 55.9 0 0 1 627.0 1099.7" fill="none" stroke="#f2d84c" stroke-width="12.6"/><path d="M631.0 1111.1L617.6 1109.0M632.8 1103.6L619.9 1099.4M635.8 1096.5L623.6 1090.3M639.8 1089.9L628.8 1081.9M644.8 1084.1L635.2 1074.5M650.6 1079.1L642.6 1068.1M657.2 1075.1L651.0 1062.9M664.3 1072.1L660.1 1059.2M671.8 1070.3L669.7 1056.9M679.5 1069.7L679.5 1056.1M687.2 1070.3L689.3 1056.9M694.7 1072.1L698.9 1059.2M701.8 1075.1L708.0 1062.9M708.4 1079.1L716.4 1068.1M714.2 1084.1L723.8 1074.5M719.2 1089.9L730.2 1081.9M723.2 1096.5L735.4 1090.3M726.2 1103.6L739.1 1099.4M728.0 1111.1L741.4 1109.0" stroke="#5a5a5a" stroke-width=".9"/>
<text x="630" y="1152.5" font-size="27.8" fill="#fff" font-weight="700" textLength="101" lengthAdjust="spacingAndGlyphs" stroke="#fff" stroke-width=".9" stroke-linejoin="round">11.08%</text>
<text x="614" y="1186" font-size="30" fill="#fbe3a1" textLength="130" lengthAdjust="spacingAndGlyphs" stroke="#fbe3a1" stroke-width="0.45">ไม่ตอบ/ไม่สนใจ</text>
<path d="M850.7 1121.0A55.9 55.9 0 0 1 962.5 1121.0" fill="none" stroke="#b2b2b2" stroke-width="12.6"/><path d="M850.7 1121.0A55.9 55.9 0 0 1 852.5 1107.0" fill="none" stroke="#f2d84c" stroke-width="12.6"/><path d="M858.1 1113.3L844.7 1111.2M859.9 1105.8L847.0 1101.6M862.9 1098.7L850.7 1092.5M866.9 1092.1L855.9 1084.1M871.9 1086.3L862.3 1076.7M877.7 1081.3L869.7 1070.3M884.3 1077.3L878.1 1065.1M891.4 1074.3L887.2 1061.4M898.9 1072.5L896.8 1059.1M906.6 1071.9L906.6 1058.3M914.3 1072.5L916.4 1059.1M921.8 1074.3L926.0 1061.4M928.9 1077.3L935.1 1065.1M935.5 1081.3L943.5 1070.3M941.3 1086.3L950.9 1076.7M946.3 1092.1L957.3 1084.1M950.3 1098.7L962.5 1092.5M953.3 1105.8L966.2 1101.6M955.1 1113.3L968.5 1111.2" stroke="#5a5a5a" stroke-width=".9"/>
<text x="862.5" y="1152.5" font-size="27.8" fill="#fff" font-weight="700" textLength="93.5" lengthAdjust="spacingAndGlyphs" stroke="#fff" stroke-width=".9" stroke-linejoin="round">8.05%</text>
<text x="847" y="1186" font-size="30" fill="#fbe3a1" textLength="119.5" lengthAdjust="spacingAndGlyphs" stroke="#fbe3a1" stroke-width="0.45">เป็นไปไม่ได้เลย</text>
<path d="M1087.1 1118.0A55.9 55.9 0 0 1 1198.9 1118.0" fill="none" stroke="#b2b2b2" stroke-width="12.6"/><path d="M1087.1 1118.0A55.9 55.9 0 0 1 1088.9 1104.0" fill="none" stroke="#f2d84c" stroke-width="12.6"/><path d="M1094.5 1110.3L1081.1 1108.2M1096.3 1102.8L1083.4 1098.6M1099.3 1095.7L1087.1 1089.5M1103.3 1089.1L1092.3 1081.1M1108.3 1083.3L1098.7 1073.7M1114.1 1078.3L1106.1 1067.3M1120.7 1074.3L1114.5 1062.1M1127.8 1071.3L1123.6 1058.4M1135.3 1069.5L1133.2 1056.1M1143.0 1068.9L1143.0 1055.3M1150.7 1069.5L1152.8 1056.1M1158.2 1071.3L1162.4 1058.4M1165.3 1074.3L1171.5 1062.1M1171.9 1078.3L1179.9 1067.3M1177.7 1083.3L1187.3 1073.7M1182.7 1089.1L1193.7 1081.1M1186.7 1095.7L1198.9 1089.5M1189.7 1102.8L1202.6 1098.6M1191.5 1110.3L1204.9 1108.2" stroke="#5a5a5a" stroke-width=".9"/>
<text x="1098" y="1152.5" font-size="27.8" fill="#fff" font-weight="700" textLength="93.5" lengthAdjust="spacingAndGlyphs" stroke="#fff" stroke-width=".9" stroke-linejoin="round">8.04%</text>
<text x="1080" y="1186" font-size="30" fill="#fbe3a1" textLength="129.5" lengthAdjust="spacingAndGlyphs" stroke="#fbe3a1" stroke-width="0.45">ไม่ค่อยเป็นไปได้</text>
</svg></section>
<section>
<svg class="s" style="top:1205px" width="1365" height="370" viewBox="0 1205 1365 370" font-family="Liberation Sans, sans-serif" >
<path d="M35.5 1261H1322" stroke="#c2c2c2" stroke-width="1.3"/>
<text x="268" y="1245" font-size="31" fill="#fff" textLength="829" lengthAdjust="spacingAndGlyphs" stroke="#fff" stroke-width="0.45">แนวโน้มที่จะตัดสินใจลงคะแนนในการเลือกตั้งด้วยบัตร 2 ใบ (แบบเขต และแบบบัญชีรายชื่อ)</text>
<text x="465" y="1313.5" font-size="26.5" fill="#fff" font-weight="700" textLength="108.5" lengthAdjust="spacingAndGlyphs" stroke="#fff" stroke-width=".9" stroke-linejoin="round">46.59%</text>
<text x="605" y="1312" font-size="30.5" fill="#fbe3a1" textLength="271" lengthAdjust="spacingAndGlyphs" stroke="#fbe3a1" stroke-width="0.45">บัตรทั้ง 2 ใบ เลือกพรรคเดียวกัน</text>
<path d="M411 1327H940.5" stroke="#9a9a9a" stroke-width="1.4" stroke-dasharray="1.4 3.1"/>
<text x="469" y="1364" font-size="26.5" fill="#fff" font-weight="700" textLength="106" lengthAdjust="spacingAndGlyphs" stroke="#fff" stroke-width=".9" stroke-linejoin="round">27.84%</text>
<text x="605" y="1362.5" font-size="30.5" fill="#fbe3a1" textLength="240" lengthAdjust="spacingAndGlyphs" stroke="#fbe3a1" stroke-width="0.45">บัตร 2 ใบ เลือกต่างพรรคกัน</text>
<path d="M411 1376.5H940.5" stroke="#9a9a9a" stroke-width="1.4" stroke-dasharray="1.4 3.1"/>
<text x="470" y="1408" font-size="26.5" fill="#fff" font-weight="700" textLength="100" lengthAdjust="spacingAndGlyphs" stroke="#fff" stroke-width=".9" stroke-linejoin="round">17.83%</text>
<text x="605" y="1406.5" font-size="30.5" fill="#fbe3a1" textLength="81" lengthAdjust="spacingAndGlyphs" stroke="#fbe3a1" stroke-width="0.45">ยังไม่แน่ใจ</text>
<path d="M411 1422H940.5" stroke="#9a9a9a" stroke-width="1.4" stroke-dasharray="1.4 3.1"/>
<text x="476" y="1455.5" font-size="26.5" fill="#fff" font-weight="700" textLength="92" lengthAdjust="spacingAndGlyphs" stroke="#fff" stroke-width=".9" stroke-linejoin="round">4.02%</text>
<text x="605" y="1454" font-size="30.5" fill="#fbe3a1" textLength="315" lengthAdjust="spacingAndGlyphs" stroke="#fbe3a1" stroke-width="0.45">บัตรทั้ง 2 ใบจะไม่เลือกใคร (Vote NO)</text>
<path d="M411 1472H940.5" stroke="#9a9a9a" stroke-width="1.4" stroke-dasharray="1.4 3.1"/>
<text x="480" y="1507" font-size="26.5" fill="#fff" font-weight="700" textLength="88" lengthAdjust="spacingAndGlyphs" stroke="#fff" stroke-width=".9" stroke-linejoin="round">2.58%</text>
<text x="605" y="1505.5" font-size="30.5" fill="#fbe3a1" textLength="305" lengthAdjust="spacingAndGlyphs" stroke="#fbe3a1" stroke-width="0.45">บัตรใบหนึ่งจะไม่เลือกใคร (Vote NO)</text>
<path d="M411 1524.5H940.5" stroke="#9a9a9a" stroke-width="1.4" stroke-dasharray="1.4 3.1"/>
<text x="490" y="1558" font-size="26.5" fill="#fff" font-weight="700" textLength="77" lengthAdjust="spacingAndGlyphs" stroke="#fff" stroke-width=".9" stroke-linejoin="round">1.14%</text>
<text x="605" y="1556.5" font-size="30.5" fill="#fbe3a1" textLength="245" lengthAdjust="spacingAndGlyphs" stroke="#fbe3a1" stroke-width="0.45">จะไม่ไปลงคะแนนเสียงเลือกตั้ง</text>
</svg></section>
<footer>
<svg class="s" style="top:1940px" width="1365" height="108" viewBox="0 1940 1365 108" font-family="Liberation Sans, sans-serif" >
<rect x="7.7" y="1950.4" width="205" height="89.3" fill="#fff"/>
<rect x="11" y="1953.5" width="198.5" height="52.5" fill="#1f2d6e"/><rect x="11" y="1953.5" width="53" height="52.5" fill="#e2262d"/>
<rect x="11" y="2006" width="198.5" height="30.5" fill="#f6a21c"/>
<g transform="translate(37.5 1979.5)"><circle r="20.5" fill="#fff"/><circle r="18.5" fill="#e2262d"/><circle r="15" fill="#fff"/><circle r="12.5" fill="none" stroke="#e2262d" stroke-width="1.2"/><circle r="6.2" fill="#e2262d"/><circle r="2.6" fill="#1f2d6e"/><path d="M0 -11.5L2.6 -7H-2.6Z" fill="#f6a21c" stroke="#e2262d" stroke-width=".6" transform="rotate(0)"/><path d="M0 -11.5L2.6 -7H-2.6Z" fill="#f6a21c" stroke="#e2262d" stroke-width=".6" transform="rotate(45)"/><path d="M0 -11.5L2.6 -7H-2.6Z" fill="#f6a21c" stroke="#e2262d" stroke-width=".6" transform="rotate(90)"/><path d="M0 -11.5L2.6 -7H-2.6Z" fill="#f6a21c" stroke="#e2262d" stroke-width=".6" transform="rotate(135)"/><path d="M0 -11.5L2.6 -7H-2.6Z" fill="#f6a21c" stroke="#e2262d" stroke-width=".6" transform="rotate(180)"/><path d="M0 -11.5L2.6 -7H-2.6Z" fill="#f6a21c" stroke="#e2262d" stroke-width=".6" transform="rotate(225)"/><path d="M0 -11.5L2.6 -7H-2.6Z" fill="#f6a21c" stroke="#e2262d" stroke-width=".6" transform="rotate(270)"/><path d="M0 -11.5L2.6 -7H-2.6Z" fill="#f6a21c" stroke="#e2262d" stroke-width=".6" transform="rotate(315)"/></g>
<text x="66.5" y="1993.5" font-size="37" fill="#fff" font-family="Liberation Serif, serif" font-weight="700" textLength="139" lengthAdjust="spacingAndGlyphs">NIDA Poll</text>
<text x="14.5" y="2030.5" font-size="24" fill="#1f2d6e" font-weight="700" textLength="191" lengthAdjust="spacingAndGlyphs">โพลแห่งแรกในประเทศไทย</text>
<path d="M225 1949V2041" stroke="#a8a8a8" stroke-width="1"/>
<text x="240" y="1970" font-size="23" fill="#f2f2f2" textLength="51" lengthAdjust="spacingAndGlyphs" stroke="#f2f2f2" stroke-width="0.4">ถูกต้อง</text>
<text x="240" y="2003" font-size="23" fill="#f2f2f2" textLength="61" lengthAdjust="spacingAndGlyphs" stroke="#f2f2f2" stroke-width="0.4">เที่ยงตรง</text>
<text x="240" y="2036" font-size="23" fill="#f2f2f2" textLength="209" lengthAdjust="spacingAndGlyphs" stroke="#f2f2f2" stroke-width="0.4">ด้วยคุณภาพตามหลักวิชาการ</text>
<text x="951.5" y="1971.4" font-size="20" fill="#ececec" textLength="297" lengthAdjust="spacingAndGlyphs" stroke="#ececec" stroke-width=".3">Tel : 02 727 3594-6 Fax : 02 727 3595</text>
<text x="1020.5" y="2002.7" font-size="20" fill="#ececec" textLength="228" lengthAdjust="spacingAndGlyphs" stroke="#ececec" stroke-width=".3">email : nida_poll@nida.ac.th</text>
<text x="1055.5" y="2034.5" font-size="20" fill="#ececec" textLength="193" lengthAdjust="spacingAndGlyphs" stroke="#ececec" stroke-width=".3">www.nidapoll.nida.ac.th</text>
<rect x="1261.4" y="1947.5" width="94" height="92.8" fill="#fff"/><path d="M1265.6 1951.6h20.7v2.95h-20.7zM1289.2 1951.6h14.8v2.95h-14.8zM1306.9 1951.6h5.9v2.95h-5.9zM1321.7 1951.6h3.0v2.95h-3.0zM1330.5 1951.6h20.7v2.95h-20.7zM1265.6 1954.6h3.0v2.95h-3.0zM1283.3 1954.6h3.0v2.95h-3.0zM1289.2 1954.6h5.9v2.95h-5.9zM1298.1 1954.6h5.9v2.95h-5.9zM1309.9 1954.6h3.0v2.95h-3.0zM1324.6 1954.6h3.0v2.95h-3.0zM1330.5 1954.6h3.0v2.95h-3.0zM1348.2 1954.6h3.0v2.95h-3.0zM1265.6 1957.5h3.0v2.95h-3.0zM1271.5 1957.5h8.9v2.95h-8.9zM1283.3 1957.5h3.0v2.95h-3.0zM1295.1 1957.5h3.0v2.95h-3.0zM1301.0 1957.5h3.0v2.95h-3.0zM1315.8 1957.5h5.9v2.95h-5.9zM1324.6 1957.5h3.0v2.95h-3.0zM1330.5 1957.5h3.0v2.95h-3.0zM1336.4 1957.5h8.9v2.95h-8.9zM1348.2 1957.5h3.0v2.95h-3.0zM1265.6 1960.5h3.0v2.95h-3.0zM1271.5 1960.5h8.9v2.95h-8.9zM1283.3 1960.5h3.0v2.95h-3.0zM1289.2 1960.5h5.9v2.95h-5.9zM1301.0 1960.5h14.8v2.95h-14.8zM1318.7 1960.5h8.9v2.95h-8.9zM1330.5 1960.5h3.0v2.95h-3.0zM1336.4 1960.5h8.9v2.95h-8.9zM1348.2 1960.5h3.0v2.95h-3.0zM1265.6 1963.4h3.0v2.95h-3.0zM1271.5 1963.4h8.9v2.95h-8.9zM1283.3 1963.4h3.0v2.95h-3.0zM1289.2 1963.4h32.5v2.95h-32.5zM1330.5 1963.4h3.0v2.95h-3.0zM1336.4 1963.4h8.9v2.95h-8.9zM1348.2 1963.4h3.0v2.95h-3.0zM1265.6 1966.4h3.0v2.95h-3.0zM1283.3 1966.4h3.0v2.95h-3.0zM1295.1 1966.4h3.0v2.95h-3.0zM1301.0 1966.4h3.0v2.95h-3.0zM1315.8 1966.4h8.9v2.95h-8.9zM1330.5 1966.4h3.0v2.95h-3.0zM1348.2 1966.4h3.0v2.95h-3.0zM1265.6 1969.3h20.7v2.95h-20.7zM1289.2 1969.3h3.0v2.95h-3.0zM1298.1 1969.3h3.0v2.95h-3.0zM1309.9 1969.3h14.8v2.95h-14.8zM1330.5 1969.3h20.7v2.95h-20.7zM1289.2 1972.3h5.9v2.95h-5.9zM1301.0 1972.3h8.9v2.95h-8.9zM1315.8 1972.3h3.0v2.95h-3.0zM1265.6 1975.2h3.0v2.95h-3.0zM1274.5 1975.2h11.8v2.95h-11.8zM1289.2 1975.2h8.9v2.95h-8.9zM1301.0 1975.2h5.9v2.95h-5.9zM1312.8 1975.2h3.0v2.95h-3.0zM1327.6 1975.2h11.8v2.95h-11.8zM1342.3 1975.2h5.9v2.95h-5.9zM1268.6 1978.2h3.0v2.95h-3.0zM1280.4 1978.2h3.0v2.95h-3.0zM1286.3 1978.2h5.9v2.95h-5.9zM1306.9 1978.2h3.0v2.95h-3.0zM1321.7 1978.2h3.0v2.95h-3.0zM1327.6 1978.2h3.0v2.95h-3.0zM1342.3 1978.2h3.0v2.95h-3.0zM1268.6 1981.1h17.7v2.95h-17.7zM1295.1 1981.1h3.0v2.95h-3.0zM1304.0 1981.1h3.0v2.95h-3.0zM1312.8 1981.1h3.0v2.95h-3.0zM1318.7 1981.1h5.9v2.95h-5.9zM1330.5 1981.1h5.9v2.95h-5.9zM1339.4 1981.1h8.9v2.95h-8.9zM1265.6 1984.1h3.0v2.95h-3.0zM1271.5 1984.1h8.9v2.95h-8.9zM1286.3 1984.1h3.0v2.95h-3.0zM1298.1 1984.1h8.9v2.95h-8.9zM1309.9 1984.1h8.9v2.95h-8.9zM1324.6 1984.1h5.9v2.95h-5.9zM1339.4 1984.1h5.9v2.95h-5.9zM1348.2 1984.1h3.0v2.95h-3.0zM1265.6 1987.0h3.0v2.95h-3.0zM1277.4 1987.0h3.0v2.95h-3.0zM1283.3 1987.0h3.0v2.95h-3.0zM1289.2 1987.0h5.9v2.95h-5.9zM1301.0 1987.0h5.9v2.95h-5.9zM1309.9 1987.0h20.7v2.95h-20.7zM1333.5 1987.0h3.0v2.95h-3.0zM1339.4 1987.0h11.8v2.95h-11.8zM1265.6 1990.0h3.0v2.95h-3.0zM1274.5 1990.0h5.9v2.95h-5.9zM1283.3 1990.0h3.0v2.95h-3.0zM1289.2 1990.0h5.9v2.95h-5.9zM1298.1 1990.0h3.0v2.95h-3.0zM1309.9 1990.0h3.0v2.95h-3.0zM1321.7 1990.0h14.8v2.95h-14.8zM1339.4 1990.0h8.9v2.95h-8.9zM1271.5 1992.9h20.7v2.95h-20.7zM1301.0 1992.9h3.0v2.95h-3.0zM1306.9 1992.9h14.8v2.95h-14.8zM1324.6 1992.9h3.0v2.95h-3.0zM1330.5 1992.9h20.7v2.95h-20.7zM1265.6 1995.9h3.0v2.95h-3.0zM1286.3 1995.9h5.9v2.95h-5.9zM1295.1 1995.9h3.0v2.95h-3.0zM1304.0 1995.9h3.0v2.95h-3.0zM1321.7 1995.9h3.0v2.95h-3.0zM1265.6 1998.8h14.8v2.95h-14.8zM1295.1 1998.8h5.9v2.95h-5.9zM1315.8 1998.8h3.0v2.95h-3.0zM1321.7 1998.8h8.9v2.95h-8.9zM1333.5 1998.8h3.0v2.95h-3.0zM1342.3 1998.8h8.9v2.95h-8.9zM1277.4 2001.8h8.9v2.95h-8.9zM1289.2 2001.8h3.0v2.95h-3.0zM1295.1 2001.8h8.9v2.95h-8.9zM1312.8 2001.8h3.0v2.95h-3.0zM1318.7 2001.8h8.9v2.95h-8.9zM1330.5 2001.8h3.0v2.95h-3.0zM1339.4 2001.8h5.9v2.95h-5.9zM1265.6 2004.7h8.9v2.95h-8.9zM1277.4 2004.7h3.0v2.95h-3.0zM1283.3 2004.7h3.0v2.95h-3.0zM1292.2 2004.7h3.0v2.95h-3.0zM1306.9 2004.7h3.0v2.95h-3.0zM1312.8 2004.7h26.6v2.95h-26.6zM1342.3 2004.7h3.0v2.95h-3.0zM1265.6 2007.7h3.0v2.95h-3.0zM1277.4 2007.7h8.9v2.95h-8.9zM1292.2 2007.7h14.8v2.95h-14.8zM1309.9 2007.7h3.0v2.95h-3.0zM1315.8 2007.7h5.9v2.95h-5.9zM1324.6 2007.7h5.9v2.95h-5.9zM1268.6 2010.6h3.0v2.95h-3.0zM1274.5 2010.6h3.0v2.95h-3.0zM1283.3 2010.6h5.9v2.95h-5.9zM1292.2 2010.6h11.8v2.95h-11.8zM1309.9 2010.6h3.0v2.95h-3.0zM1315.8 2010.6h3.0v2.95h-3.0zM1321.7 2010.6h11.8v2.95h-11.8zM1336.4 2010.6h5.9v2.95h-5.9zM1348.2 2010.6h3.0v2.95h-3.0zM1295.1 2013.6h5.9v2.95h-5.9zM1304.0 2013.6h11.8v2.95h-11.8zM1318.7 2013.6h3.0v2.95h-3.0zM1330.5 2013.6h14.8v2.95h-14.8zM1265.6 2016.5h20.7v2.95h-20.7zM1289.2 2016.5h3.0v2.95h-3.0zM1304.0 2016.5h8.9v2.95h-8.9zM1330.5 2016.5h3.0v2.95h-3.0zM1336.4 2016.5h3.0v2.95h-3.0zM1342.3 2016.5h3.0v2.95h-3.0zM1265.6 2019.5h3.0v2.95h-3.0zM1283.3 2019.5h3.0v2.95h-3.0zM1292.2 2019.5h5.9v2.95h-5.9zM1301.0 2019.5h8.9v2.95h-8.9zM1318.7 2019.5h8.9v2.95h-8.9zM1333.5 2019.5h8.9v2.95h-8.9zM1345.3 2019.5h5.9v2.95h-5.9zM1265.6 2022.4h3.0v2.95h-3.0zM1271.5 2022.4h8.9v2.95h-8.9zM1283.3 2022.4h3.0v2.95h-3.0zM1298.1 2022.4h3.0v2.95h-3.0zM1304.0 2022.4h3.0v2.95h-3.0zM1309.9 2022.4h5.9v2.95h-5.9zM1318.7 2022.4h3.0v2.95h-3.0zM1324.6 2022.4h11.8v2.95h-11.8zM1342.3 2022.4h8.9v2.95h-8.9zM1265.6 2025.4h3.0v2.95h-3.0zM1271.5 2025.4h8.9v2.95h-8.9zM1283.3 2025.4h3.0v2.95h-3.0zM1295.1 2025.4h5.9v2.95h-5.9zM1306.9 2025.4h3.0v2.95h-3.0zM1312.8 2025.4h20.7v2.95h-20.7zM1336.4 2025.4h3.0v2.95h-3.0zM1342.3 2025.4h5.9v2.95h-5.9zM1265.6 2028.3h3.0v2.95h-3.0zM1271.5 2028.3h8.9v2.95h-8.9zM1283.3 2028.3h3.0v2.95h-3.0zM1292.2 2028.3h5.9v2.95h-5.9zM1304.0 2028.3h8.9v2.95h-8.9zM1315.8 2028.3h3.0v2.95h-3.0zM1324.6 2028.3h5.9v2.95h-5.9zM1336.4 2028.3h3.0v2.95h-3.0zM1342.3 2028.3h8.9v2.95h-8.9zM1265.6 2031.3h3.0v2.95h-3.0zM1283.3 2031.3h3.0v2.95h-3.0zM1292.2 2031.3h11.8v2.95h-11.8zM1306.9 2031.3h3.0v2.95h-3.0zM1324.6 2031.3h8.9v2.95h-8.9zM1336.4 2031.3h5.9v2.95h-5.9zM1345.3 2031.3h5.9v2.95h-5.9zM1265.6 2034.2h20.7v2.95h-20.7zM1289.2 2034.2h5.9v2.95h-5.9zM1298.1 2034.2h8.9v2.95h-8.9zM1321.7 2034.2h3.0v2.95h-3.0zM1327.6 2034.2h3.0v2.95h-3.0zM1333.5 2034.2h3.0v2.95h-3.0zM1339.4 2034.2h11.8v2.95h-11.8z" fill="#111"/>
</svg></footer>
</main>
</body>
</html>
